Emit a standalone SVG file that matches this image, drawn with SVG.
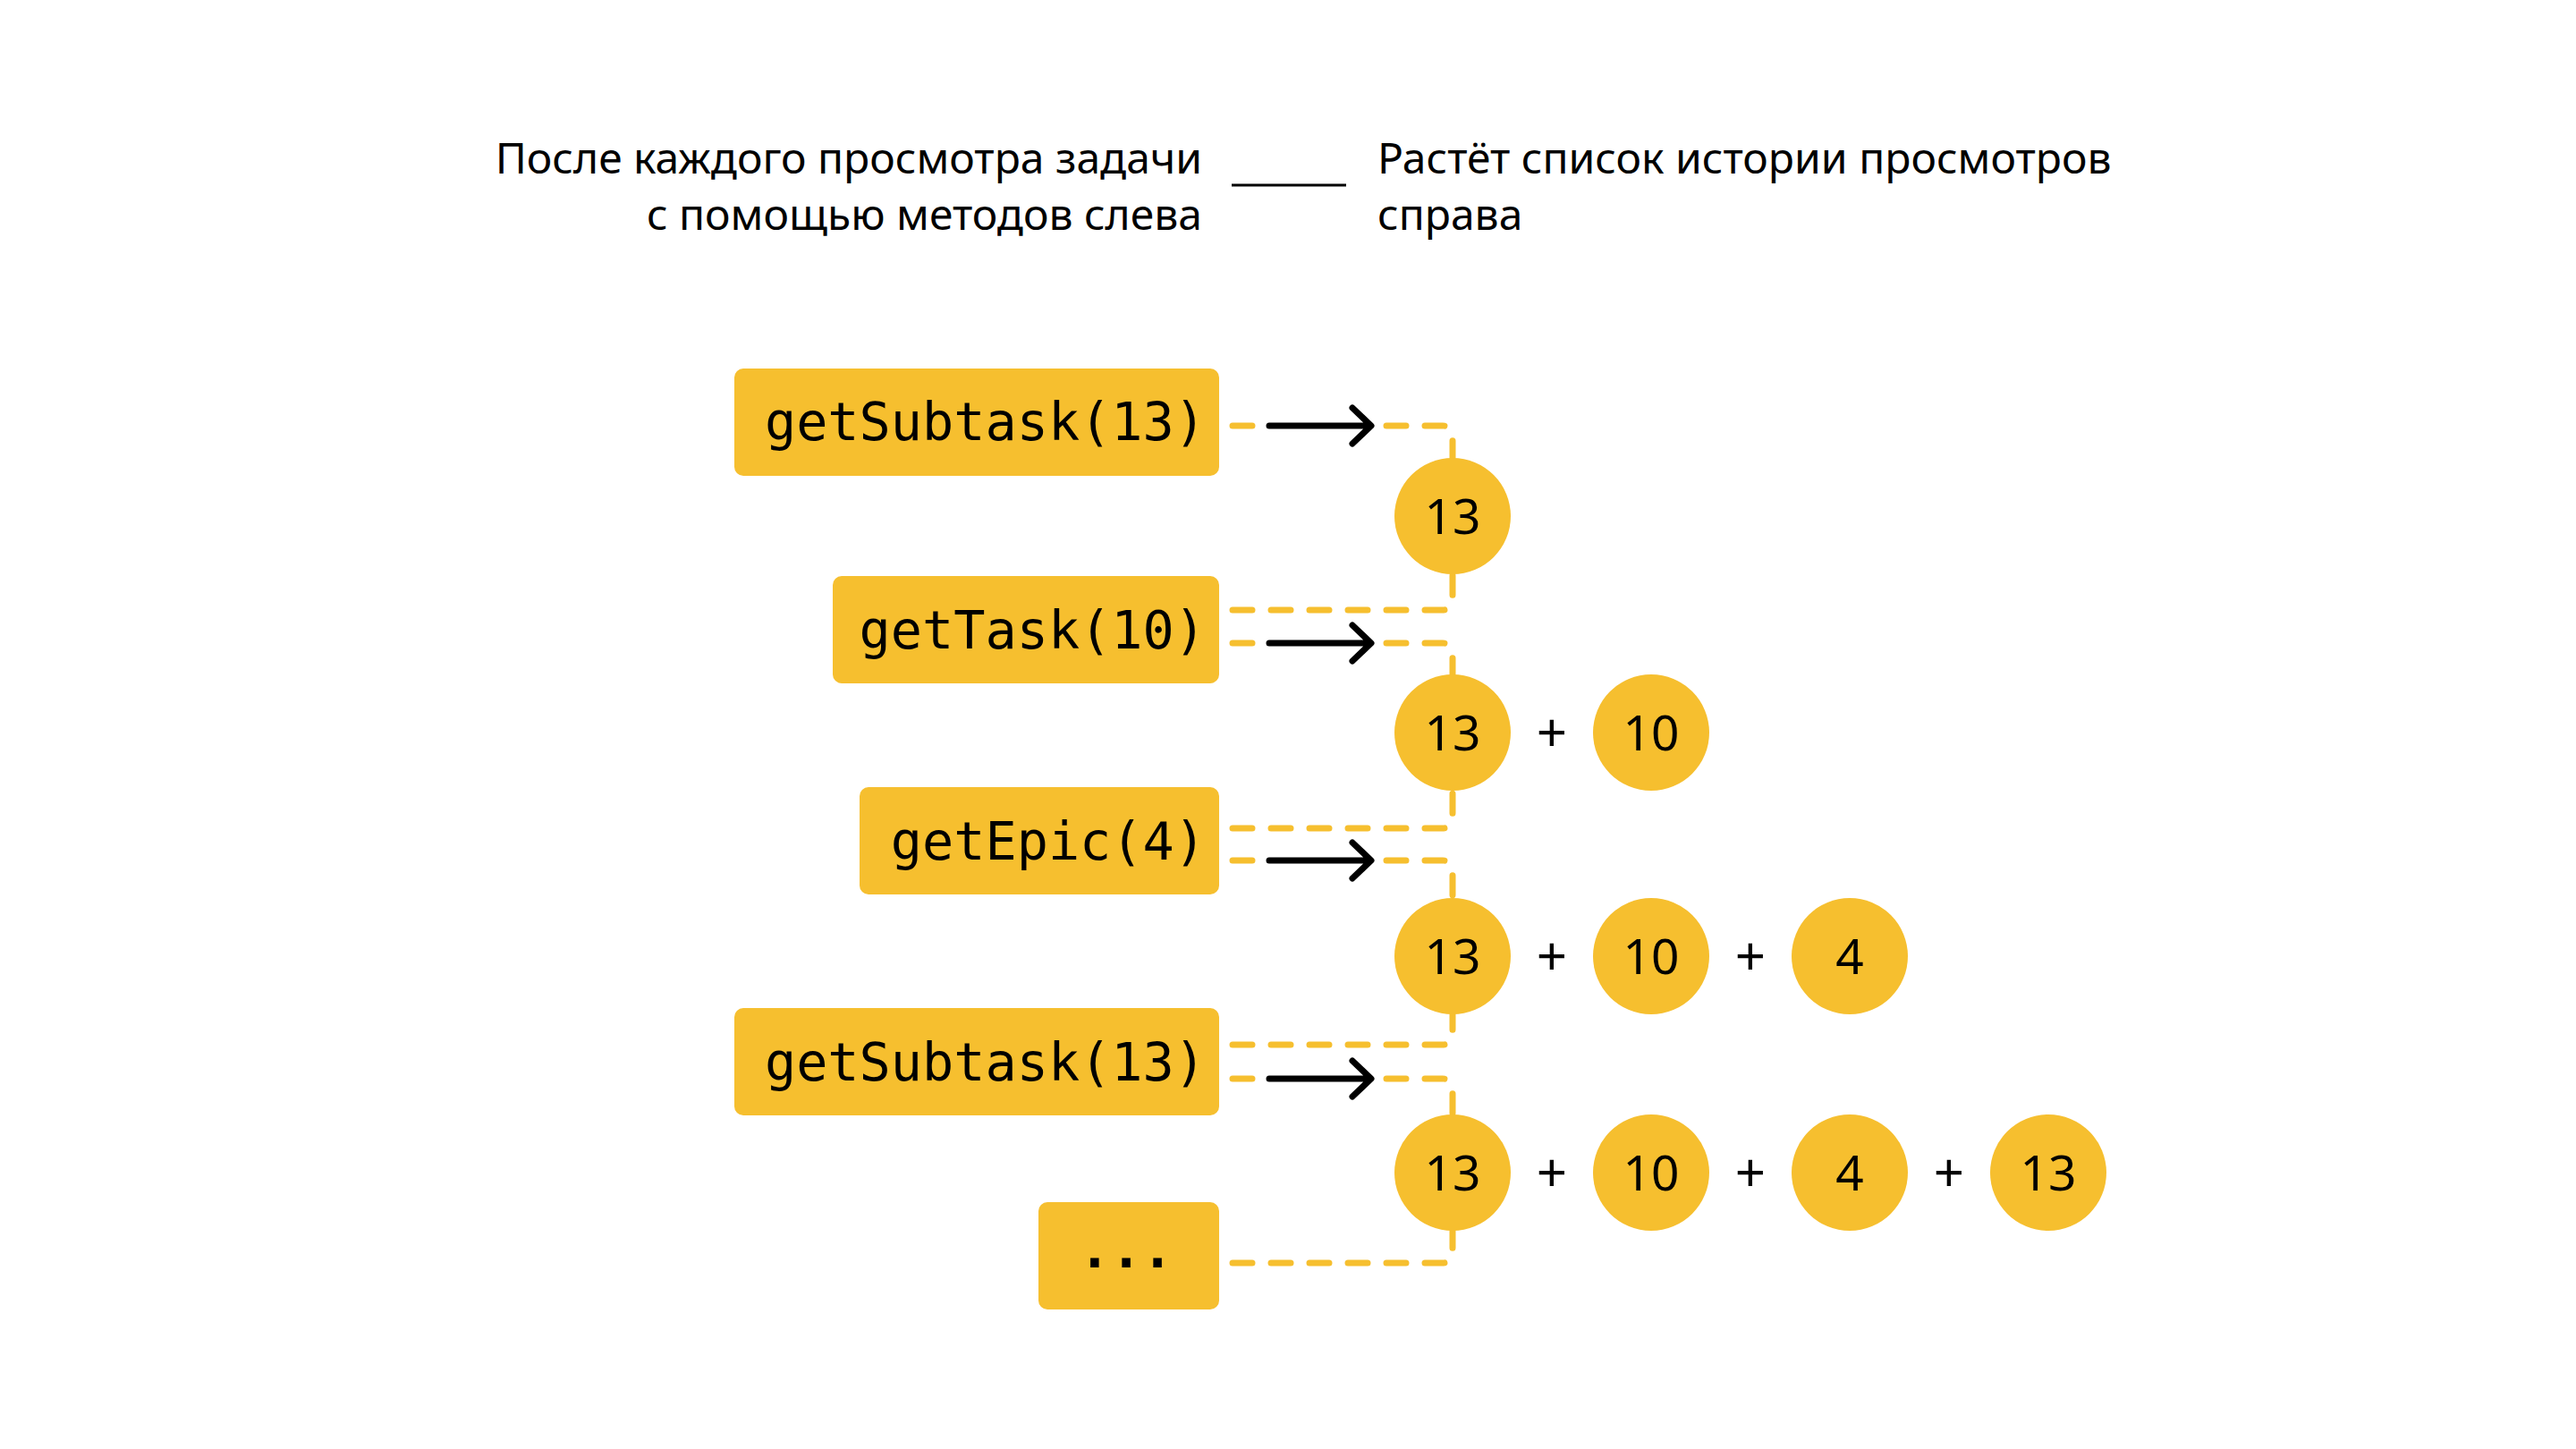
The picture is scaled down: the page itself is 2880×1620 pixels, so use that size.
<svg xmlns="http://www.w3.org/2000/svg" width="2880" height="1620" viewBox="0 0 2880 1620">
<style>
.title{font-family:"Noto Sans","Open Sans",sans-serif;font-size:48px;fill:#000}
.box{fill:#F6BF2F}
.code{font-family:"DejaVu Sans Mono","Liberation Mono",monospace;font-size:58.5px;fill:#000}
.dots{font-weight:bold}
.circ{fill:#F6BF2F}
.num{font-family:"Noto Sans","Open Sans",sans-serif;font-size:55px;fill:#000;text-anchor:middle}
.plus{font-family:"Noto Sans","Open Sans",sans-serif;font-size:60px;fill:#000;text-anchor:middle}
.dash{fill:none;stroke:#F6BF2F;stroke-width:7;stroke-linecap:round;stroke-dasharray:22 21}
.arrow{fill:none;stroke:#000;stroke-width:7;stroke-linecap:round;stroke-linejoin:round}
</style>
<rect width="2880" height="1620" fill="#fff"/>
<g id="header">
<text class="title" x="1344" y="194" text-anchor="end">После каждого просмотра задачи</text>
<text class="title" x="1344" y="257" text-anchor="end">с помощью методов слева</text>
<line x1="1377" y1="207" x2="1505" y2="207" stroke="#000" stroke-width="3"/>
<text class="title" x="1540" y="194">Растёт список истории просмотров</text>
<text class="title" x="1540" y="257">справа</text>
</g>
<g id="connectors">
<path class="dash" d="M1378,476 H1613 A11,11 0 0 1 1624,487 V512"/>
<path class="dash" d="M1378,682 H1613 A11,11 0 0 0 1624,671 V642"/>
<path class="dash" d="M1378,719 H1613 A11,11 0 0 1 1624,730 V754"/>
<path class="dash" d="M1378,926 H1613 A11,11 0 0 0 1624,915 V884"/>
<path class="dash" d="M1378,962 H1613 A11,11 0 0 1 1624,973 V1004"/>
<path class="dash" d="M1378,1168 H1613 A11,11 0 0 0 1624,1157 V1134"/>
<path class="dash" d="M1378,1206 H1613 A11,11 0 0 1 1624,1217 V1246"/>
<path class="dash" d="M1378,1412 H1613 A11,11 0 0 0 1624,1401 V1376"/>
<rect x="1410" y="466" width="130" height="20" fill="#fff"/>
<rect x="1410" y="709" width="130" height="20" fill="#fff"/>
<rect x="1410" y="952" width="130" height="20" fill="#fff"/>
<rect x="1410" y="1196" width="130" height="20" fill="#fff"/>
<path class="arrow" d="M1419,476 H1532 M1512,456 L1533,476 L1512,496"/>
<path class="arrow" d="M1419,719 H1532 M1512,699 L1533,719 L1512,739"/>
<path class="arrow" d="M1419,962 H1532 M1512,942 L1533,962 L1512,982"/>
<path class="arrow" d="M1419,1206 H1532 M1512,1186 L1533,1206 L1512,1226"/>
</g>
<g id="node-getSubtask-1">
<rect class="box" x="821" y="412" width="542" height="120" rx="10"/>
<text class="code" x="1348" y="492" text-anchor="end">getSubtask(13)</text>
</g>
<g id="node-getTask">
<rect class="box" x="931" y="644" width="432" height="120" rx="10"/>
<text class="code" x="1348" y="725" text-anchor="end">getTask(10)</text>
</g>
<g id="node-getEpic">
<rect class="box" x="961" y="880" width="402" height="120" rx="10"/>
<text class="code" x="1348" y="961" text-anchor="end">getEpic(4)</text>
</g>
<g id="node-getSubtask-2">
<rect class="box" x="821" y="1127" width="542" height="120" rx="10"/>
<text class="code" x="1348" y="1208" text-anchor="end">getSubtask(13)</text>
</g>
<g id="node-more">
<rect class="box" x="1161" y="1344" width="202" height="120" rx="10"/>
<text class="code dots" x="1259" y="1417" text-anchor="middle">...</text>
</g>
<g id="history-1">
<circle class="circ" cx="1624" cy="577" r="65"/>
<text class="num" x="1624" y="597">13</text>
</g>
<g id="history-2">
<circle class="circ" cx="1624" cy="819" r="65"/>
<text class="num" x="1624" y="839">13</text>
<text class="plus" x="1735" y="841">+</text>
<circle class="circ" cx="1846" cy="819" r="65"/>
<text class="num" x="1846" y="839">10</text>
</g>
<g id="history-3">
<circle class="circ" cx="1624" cy="1069" r="65"/>
<text class="num" x="1624" y="1089">13</text>
<text class="plus" x="1735" y="1091">+</text>
<circle class="circ" cx="1846" cy="1069" r="65"/>
<text class="num" x="1846" y="1089">10</text>
<text class="plus" x="1957" y="1091">+</text>
<circle class="circ" cx="2068" cy="1069" r="65"/>
<text class="num" x="2068" y="1089">4</text>
</g>
<g id="history-4">
<circle class="circ" cx="1624" cy="1311" r="65"/>
<text class="num" x="1624" y="1331">13</text>
<text class="plus" x="1735" y="1333">+</text>
<circle class="circ" cx="1846" cy="1311" r="65"/>
<text class="num" x="1846" y="1331">10</text>
<text class="plus" x="1957" y="1333">+</text>
<circle class="circ" cx="2068" cy="1311" r="65"/>
<text class="num" x="2068" y="1331">4</text>
<text class="plus" x="2179" y="1333">+</text>
<circle class="circ" cx="2290" cy="1311" r="65"/>
<text class="num" x="2290" y="1331">13</text>
</g>
</svg>
